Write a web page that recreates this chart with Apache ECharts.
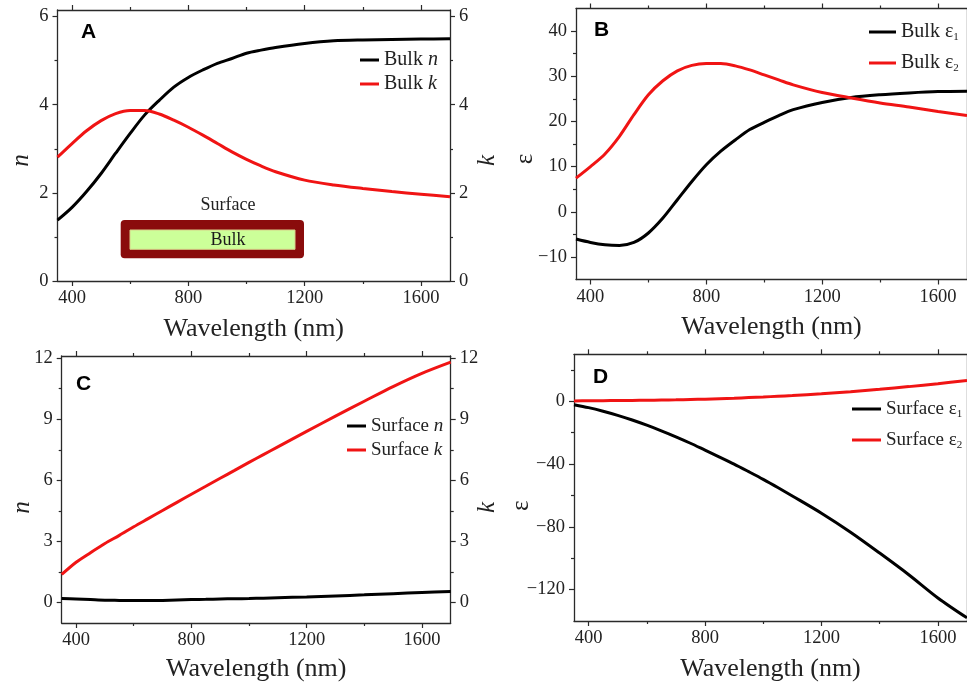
<!DOCTYPE html>
<html><head><meta charset="utf-8">
<script src="https://cdn.jsdelivr.net/npm/echarts@6/dist/echarts.min.js"></script>
<style>html,body{margin:0;padding:0;background:#fff}#c{width:967px;height:683px}</style>
</head><body><div id="c"></div>
<script>
// ---- data ----
const wavelength = [350,400,450,500,550,600,650,700,750,800,850,900,950,1000,1050,1100,1200,1300,1400,1500,1600,1700];
const bulkN     = [1.38,1.67,2.03,2.44,2.90,3.35,3.77,4.10,4.40,4.62,4.79,4.94,5.05,5.17,5.24,5.30,5.39,5.45,5.47,5.48,5.49,5.50];
const bulkK     = [2.81,3.12,3.41,3.64,3.80,3.87,3.87,3.79,3.65,3.49,3.31,3.12,2.93,2.76,2.61,2.48,2.29,2.18,2.10,2.03,1.97,1.91];
const bulkEps1  = [-6.05,-6.8,-7.3,-7.45,-6.8,-4.7,-1.4,2.66,6.7,10.4,13.4,15.9,18.2,19.8,21.3,22.6,24.2,25.3,25.9,26.3,26.6,26.7];
const bulkEps2  = [7.45,10.0,12.8,16.7,21.5,25.9,29.0,31.2,32.4,32.8,32.8,32.3,31.4,30.3,29.2,28.1,26.4,25.2,24.1,23.2,22.2,21.3];
const surfN     = [0.20,0.18,0.15,0.12,0.11,0.10,0.10,0.11,0.13,0.15,0.16,0.18,0.19,0.20,0.22,0.24,0.28,0.33,0.38,0.44,0.50,0.55];
const surfK     = [1.38,1.98,2.45,2.90,3.30,3.72,4.12,4.52,4.92,5.32,5.71,6.10,6.49,6.88,7.26,7.64,8.40,9.15,9.88,10.60,11.25,11.80];
const surfEps1  = [-2.1,-4.0,-6.3,-8.9,-11.9,-15.2,-18.8,-22.6,-26.7,-31.1,-35.5,-40.0,-44.8,-49.7,-54.9,-60.3,-71.3,-83.4,-96.7,-110.5,-125.3,-138];
const surfEps2  = [0.3,0.4,0.45,0.5,0.6,0.7,0.85,1.0,1.2,1.4,1.7,2.0,2.4,2.8,3.25,3.7,4.8,6.2,7.7,9.4,11.3,13.3];

const xMajor = [400,800,1200,1600];
const xMinor = [600,1000,1400];
const aMajor = [0,2,4,6],            aMinor = [1,3,5];
const bMajor = [-10,0,10,20,30,40],  bMinor = [-5,5,15,25,35];
const cMajor = [0,3,6,9,12],         cMinor = [1.5,4.5,7.5,10.5];
const dMajor = [-120,-80,-40,0],     dMinor = [-100,-60,-20,20];

// ---- styling ----
const SERIF = '"Liberation Serif", "Times New Roman", serif';
const AX = '#2a2a2a';
const LBL = '#222';
const RED = '#f01414';
const BLACK = '#000';

const pairs = ys => wavelength.map((x,i)=>[x, ys[i]]);
const fmtNum = v => v < 0 ? '\u2212' + Math.abs(v) : String(v);

const grids = [
  {left:57.5, top:10,    width:392.5, height:271},
  {left:576,  top:8.5,   width:398.5, height:271},
  {left:61.7, top:356,   width:389,   height:267.3},
  {left:574,  top:354.3, width:399,   height:268}
];

const xAxis = [], yAxis = [];
function addX(gi, nameGap){
  const base = {gridIndex:gi, type:'value', min:350, max:1700, splitLine:{show:false}};
  xAxis.push(Object.assign({}, base, {position:'bottom', name:'Wavelength (nm)', nameLocation:'middle', nameGap:nameGap,
    nameTextStyle:{fontFamily:SERIF, fontSize:26, color:LBL},
    axisLine:{onZero:false, lineStyle:{color:AX, width:1.3}},
    axisTick:{customValues:xMajor, length:5, lineStyle:{color:AX, width:1.2}},
    axisLabel:{customValues:xMajor, margin:8, fontFamily:SERIF, fontSize:18.5, color:LBL, formatter:fmtNum}}));
  xAxis.push(Object.assign({}, base, {position:'bottom', axisLine:{show:false, onZero:false},
    axisTick:{customValues:xMinor, length:3, lineStyle:{color:AX, width:1.2}}, axisLabel:{show:false}}));
  xAxis.push(Object.assign({}, base, {position:'top', axisLine:{onZero:false, lineStyle:{color:AX, width:1.3}},
    axisTick:{customValues:xMajor, length:5, lineStyle:{color:AX, width:1.2}}, axisLabel:{show:false}}));
  xAxis.push(Object.assign({}, base, {position:'top', axisLine:{show:false, onZero:false},
    axisTick:{customValues:xMinor, length:3, lineStyle:{color:AX, width:1.2}}, axisLabel:{show:false}}));
}
function addY(gi, min, max, major, minor, lName, lItalic, lGap, rName, rGap, shift){
  const base = {gridIndex:gi, type:'value', min:min, max:max, splitLine:{show:false}};
  const nameStyle = (it)=>({fontFamily:SERIF, fontSize:25, color:LBL, fontStyle: it?'italic':'normal', padding:[0,shift,0,0]});
  yAxis.push(Object.assign({}, base, {position:'left', name:lName, nameLocation:'middle', nameGap:lGap, nameMoveOverlap:false,
    nameTextStyle:nameStyle(lItalic),
    axisLine:{onZero:false, lineStyle:{color:AX, width:1.3}},
    axisTick:{customValues:major, length:5, lineStyle:{color:AX, width:1.2}},
    axisLabel:{customValues:major, margin:9, fontFamily:SERIF, fontSize:18.5, color:LBL, formatter:fmtNum}}));
  yAxis.push(Object.assign({}, base, {position:'left', axisLine:{show:false, onZero:false},
    axisTick:{customValues:minor, length:3, lineStyle:{color:AX, width:1.2}}, axisLabel:{show:false}}));
  const right = Object.assign({}, base, {position:'right',
    axisLine:{onZero:false, lineStyle:{color:AX, width:1.3}},
    axisTick:{customValues:major, length:5, lineStyle:{color:AX, width:1.2}},
    axisLabel: rName ? {customValues:major, margin:9, fontFamily:SERIF, fontSize:18.5, color:LBL, formatter:fmtNum} : {show:false}});
  if (rName){ Object.assign(right, {name:rName, nameLocation:'middle', nameGap:rGap, nameMoveOverlap:false, nameTextStyle:nameStyle(true)}); }
  yAxis.push(right);
  yAxis.push(Object.assign({}, base, {position:'right', axisLine:{show:false, onZero:false},
    axisTick:{customValues:minor, length:3, lineStyle:{color:AX, width:1.2}}, axisLabel:{show:false}}));
}
addX(0, 35); addY(0, 0, 6.15, aMajor, aMinor, 'n', true, 24, 'k', 25, 30);
addX(1, 35); addY(1, -15, 45, bMajor, bMinor, 'ε', false, 38, null, 0, 30);
addX(2, 33); addY(2, -1, 12.1, cMajor, cMinor, 'n', true, 27, 'k', 24, 36);
addX(3, 35); addY(3, -140, 30, dMajor, dMinor, 'ε', false, 40, null, 0, 36);

function line(name, gi, ys, color, yOff){
  return {type:'line', name:name, xAxisIndex:gi*4, yAxisIndex:gi*4 + (yOff||0), data:pairs(ys),
    showSymbol:false, smooth:0.3, color:color, lineStyle:{color:color, width:3}, z:3};
}
const series = [
  line('Bulk n', 0, bulkN, BLACK), line('Bulk k', 0, bulkK, RED, 2),
  line('Bulk ε1', 1, bulkEps1, BLACK), line('Bulk ε2', 1, bulkEps2, RED),
  line('Surface n', 2, surfN, BLACK), line('Surface k', 2, surfK, RED, 2),
  line('Surface ε1', 3, surfEps1, BLACK), line('Surface ε2', 3, surfEps2, RED)
];

const legendText = {
  'Bulk n':'Bulk {i|n}', 'Bulk k':'Bulk {i|k}',
  'Bulk ε1':'Bulk ε{s|1}', 'Bulk ε2':'Bulk ε{s|2}',
  'Surface n':'Surface {i|n}', 'Surface k':'Surface {i|k}',
  'Surface ε1':'Surface ε{s|1}', 'Surface ε2':'Surface ε{s|2}'
};
function legend(names, left, top, w, gap, fs){
  return {data:names, left:left, top:top, orient:'vertical', icon:'rect', itemWidth:w, itemHeight:3, itemGap:gap, padding:0,
    selectedMode:false, formatter: n => legendText[n],
    textStyle:{fontFamily:SERIF, fontSize:fs, color:LBL, lineHeight:22,
      rich:{i:{fontFamily:SERIF, fontSize:fs, fontStyle:'italic', color:LBL, lineHeight:22},
            s:{fontFamily:SERIF, fontSize:11, color:LBL, lineHeight:9, verticalAlign:'bottom'}}}};
}

const letter = (t, l, tp) => ({text:t, left:l, top:tp, padding:0,
  textStyle:{fontFamily:'"Liberation Sans", Arial, sans-serif', fontWeight:'bold', fontSize:21, color:'#000'}});

const option = {
  animation:false,
  backgroundColor:'#fff',
  title:[letter('A',81,22), letter('B',594,20), letter('C',76,374), letter('D',593,367)],
  grid:grids,
  xAxis:xAxis,
  yAxis:yAxis,
  legend:[
    legend(['Bulk n','Bulk k'], 360, 49, 19, 2, 20),
    legend(['Bulk ε1','Bulk ε2'], 869, 21, 27, 9, 20),
    legend(['Surface n','Surface k'], 347, 415, 19, 2, 19),
    legend(['Surface ε1','Surface ε2'], 852, 398, 29, 9, 19)
  ],
  graphic:[
    {type:'text', x:228, y:205, style:{text:'Surface', fontFamily:SERIF, fontSize:18, fill:LBL, align:'center', verticalAlign:'middle'}},
    {type:'rect', shape:{x:120.7, y:220, width:183.3, height:38.3, r:4}, style:{fill:'#8a0c0c'}},
    {type:'rect', shape:{x:130, y:230, width:165, height:19.3}, style:{fill:'#ccff99', stroke:'#d8cf8a', lineWidth:1}},
    {type:'text', x:228, y:240, style:{text:'Bulk', fontFamily:SERIF, fontSize:18, fill:'#1a1a1a', align:'center', verticalAlign:'middle'}}
  ],
  series:series
};
const chart = echarts.init(document.getElementById('c'));
chart.setOption(option);
</script>
</body></html>
